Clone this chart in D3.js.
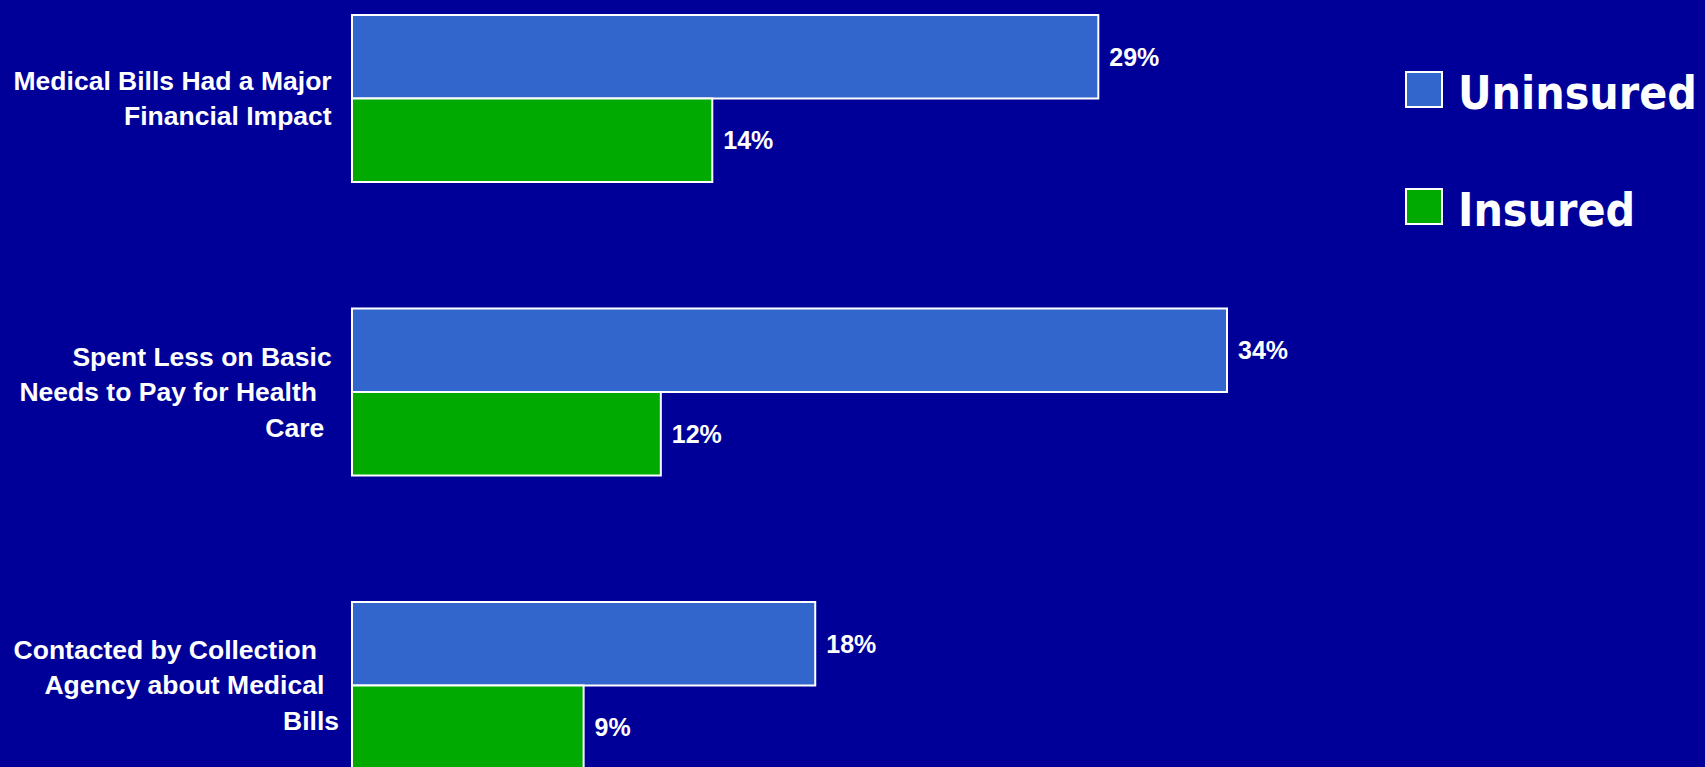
<!DOCTYPE html>
<html>
<head>
<meta charset="utf-8">
<script src="https://cdn.jsdelivr.net/npm/d3@7"></script>
<style>
  html, body { margin: 0; padding: 0; background: #000099; overflow: hidden; }
  text { white-space: pre; }
</style>
</head>
<body>
<svg id="svg" width="1705" height="767"></svg>
<script>
// categories, each split into label lines (trailing spaces kept as in the slide)
var categories = ['bills', 'basic', 'collection'];
var labelLines = [
    ['Medical Bills Had a Major ', 'Financial Impact '],
    ['Spent Less on Basic ', 'Needs to Pay for Health   ', 'Care  '],
    ['Contacted by Collection   ', 'Agency about Medical  ', 'Bills']
];
var seriesNames = ['Uninsured', 'Insured'];
var uninsured = [29, 34, 18];
var insured = [14, 12, 9];
var colors = ['#3366CC', '#00AA00'];

var svg = d3.select('#svg');

var scX = d3.scaleLinear().domain([0, 34]).range([352, 1227]);
var scY = d3.scaleBand().domain(categories).range([15, 769]).paddingInner(0.431).paddingOuter(0);
var scSub = d3.scaleBand().domain(seriesNames).range([0, scY.bandwidth()]);
var scColor = d3.scaleOrdinal(colors).domain(seriesNames);

var rows = [];
categories.forEach(function(c, i) {
    rows.push({cat: c, series: 'Uninsured', val: uninsured[i]});
    rows.push({cat: c, series: 'Insured', val: insured[i]});
});

var sans = '"Liberation Sans", Arial, sans-serif';

// bars
svg.append('g')
    .selectAll('rect')
    .data(rows)
    .enter()
    .append('rect')
    .attr('x', scX(0))
    .attr('y', d => scY(d.cat) + scSub(d.series))
    .attr('width', d => scX(d.val) - scX(0))
    .attr('height', scSub.bandwidth())
    .attr('fill', d => scColor(d.series))
    .attr('stroke', 'white')
    .attr('stroke-width', 2);

// value labels
svg.append('g')
    .selectAll('text')
    .data(rows)
    .enter()
    .append('text')
    .attr('x', d => scX(d.val) + 11)
    .attr('y', d => scY(d.cat) + scSub(d.series) + scSub.bandwidth() / 2)
    .attr('dy', '0.36em')
    .attr('fill', 'white')
    .attr('font-family', sans)
    .attr('font-weight', 'bold')
    .attr('font-size', 25)
    .text(d => d.val + '%');

// category labels
var lineH = 35.5;
var catG = svg.append('g')
    .selectAll('text')
    .data(categories)
    .enter()
    .append('text')
    .attr('text-anchor', 'end')
    .attr('fill', 'white')
    .attr('font-family', sans)
    .attr('font-weight', 'bold')
    .attr('font-size', 26.5);

catG.each(function(c, i) {
    var lines = labelLines[i];
    var mid = scY(c) + scY.bandwidth() / 2;
    var top = mid - (lines.length - 1) * lineH / 2;
    d3.select(this).selectAll('tspan')
        .data(lines)
        .enter()
        .append('tspan')
        .attr('x', 339)
        .attr('y', (d, j) => top + j * lineH + 9)
        .text(d => d);
});

// legend
var legend = svg.append('g')
    .selectAll('g')
    .data(seriesNames)
    .enter()
    .append('g')
    .attr('transform', (d, i) => 'translate(1406,' + (72 + i * 117) + ')');

legend.append('rect')
    .attr('width', 36)
    .attr('height', 35)
    .attr('fill', d => scColor(d))
    .attr('stroke', 'white')
    .attr('stroke-width', 2);

legend.append('text')
    .attr('x', 52)
    .attr('y', 37)
    .attr('fill', 'white')
    .attr('font-family', '"DejaVu Sans Condensed", "DejaVu Sans", sans-serif')
    .attr('font-weight', 'bold')
    .attr('font-size', 46)
    .text(d => d);
</script>
</body>
</html>
